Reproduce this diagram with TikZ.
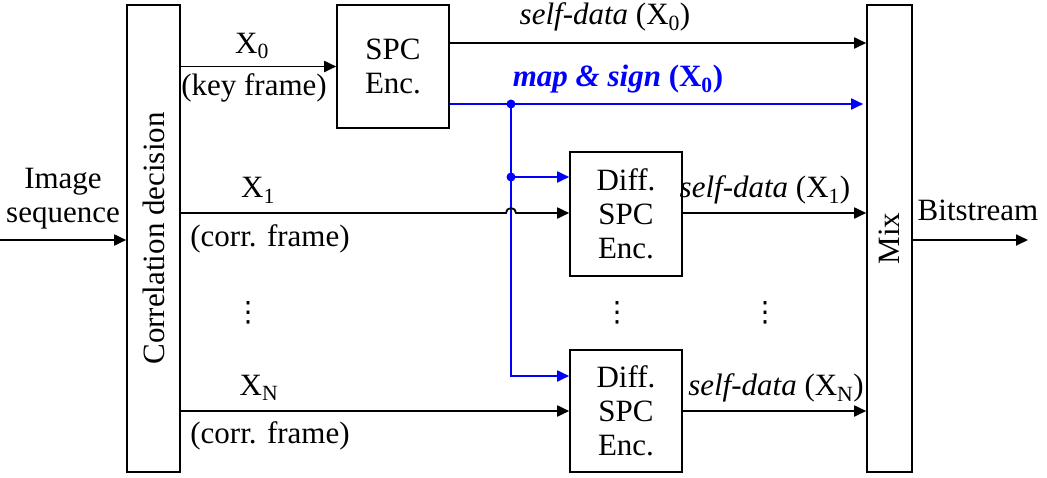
\documentclass[tikz,border=0pt]{standalone}
\usepackage{fontspec}
\setmainfont{Liberation Serif}
\newfontfamily\tms{Liberation Serif}
\newfontfamily\djfont{DejaVu Sans}
\usetikzlibrary{arrows.meta}
\newcommand{\myvd}{{\djfont\fontsize{28}{30}\selectfont ⋮}}
\begin{document}
\begin{tikzpicture}[x=1pt,y=-1pt,
  every node/.style={font=\tms\fontsize{31}{34}\selectfont, inner sep=0pt},
  box/.style={draw, line width=1.6pt, align=center},
  arr/.style={line width=1.8pt, -{Triangle[length=12pt,width=11pt]}},
  bl/.style={arr, blue},
  dotj/.style={blue}
]
\useasboundingbox (0,0) rectangle (1047,477);
% boxes
\node[box, minimum width=53pt, minimum height=467pt] (corr) at (153.5,238.5) {};
\node[rotate=90] (corrt) at (corr.center) {Correlation decision};
\node[box, minimum width=45pt, minimum height=467pt] (mix) at (889.5,238.5) {};
\node[rotate=90] (mixt) at (mix.center) {Mix};
\node[box, minimum width=112pt, minimum height=123pt] (spc) at (393,66.5) {SPC\\Enc.};
\node[box, minimum width=112pt, minimum height=124pt] (d1) at (626,214) {Diff.\\SPC\\Enc.};
\node[box, minimum width=112pt, minimum height=122pt] (d2) at (626,411) {Diff.\\SPC\\Enc.};
% levels
\coordinate (yin) at (0,240);
\coordinate (ys) at (0,43);
\coordinate (yb) at (0,104);
\coordinate (y1) at (0,213);
\coordinate (yN) at (0,411);
\coordinate (y2) at (0,376);
\coordinate (j1) at (511,104);
\coordinate (j2) at (511,177);
\coordinate (out) at (1028,240);
% input
\draw[arr] (yin) -- (yin -| corr.west);
\node[align=center] (imgseq) at (63,199) {Image\\sequence};
% X0
\draw[arr] (corr.east |- spc.west) -- (spc.west);
\node (x0) at (252,46) {X\textsubscript{0}};
\node (kf) at (254,88) {(key frame)};
% SPC outputs
\draw[arr] (spc.east |- ys) -- (mix.west |- ys);
\node (sd0) at (605,17) {\textit{self-data} (X\textsubscript{0})};
\draw[bl, shorten >=3pt] (spc.east |- yb) -- (mix.west |- yb);
\node[text=blue] (ms0) at (618,79) {\textbf{\textit{map \& sign} (X\textsubscript{0})}};
\fill[dotj] (j1) circle (4.5pt);
\fill[dotj] (j2) circle (4.5pt);
\draw[bl] (j1) |- (d2.west |- y2);
\draw[bl] (j2) -- (j2 -| d1.west);
% X1
\draw[arr] (corr.east |- y1) -- (506,213) arc[start angle=180, end angle=0, radius=5pt] -- (d1.west |- y1);
\node (x1) at (258,190) {X\textsubscript{1}};
\node (cf1) at (270,239) {(corr. frame)};
\draw[arr] (d1.east |- y1) -- (mix.west |- y1);
\node (sd1) at (765,190) {\textit{self-data} (X\textsubscript{1})};
% dots
\node (v1) at (248,313) {\myvd};
\node (v2) at (617,313) {\myvd};
\node (v3) at (765,313) {\myvd};
% XN
\draw[arr] (corr.east |- yN) -- (d2.west |- yN);
\node (xn) at (259,388) {X\textsubscript{N}};
\node (cfn) at (270,436) {(corr. frame)};
\draw[arr] (d2.east |- yN) -- (mix.west |- yN);
\node (sdn) at (776,388) {\textit{self-data} (X\textsubscript{N})};
% output
\draw[arr] (mix.east |- out) -- (out);
\node (bs) at (978,210) {Bitstream};
\end{tikzpicture}
\end{document}
